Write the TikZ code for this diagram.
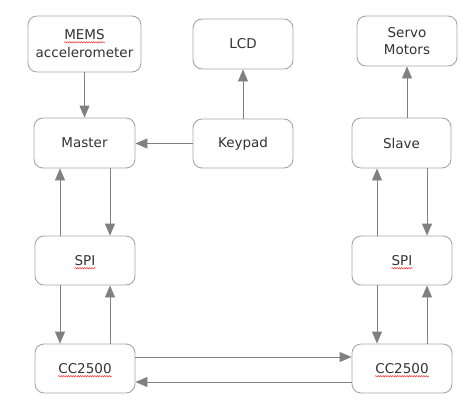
\documentclass[tikz,border=0pt]{standalone}
\usepackage{fontspec}
\setmainfont{DejaVu Sans}
\usetikzlibrary{arrows.meta,decorations.pathmorphing}
\definecolor{boxline}{HTML}{A6A6A6}
\definecolor{arrline}{HTML}{808080}
\definecolor{txtcol}{HTML}{333333}
\begin{document}
\begin{tikzpicture}[x=1pt,y=-1pt,
  box/.style={draw=boxline, line width=0.9pt, rounded corners=9pt, fill=white,
    minimum width=100pt, minimum height=50pt, inner sep=0pt, align=center,
    text=txtcol, font=\fontsize{13.5}{17.5}\selectfont},
  txt/.style={inner sep=0pt, text=txtcol, font=\fontsize{13.5}{17.5}\selectfont},
  arr/.style={draw=arrline, line width=0.9pt, -{Triangle[length=12pt,width=10pt]}},
  squig/.style={draw=red!85, line width=0.45pt, decorate,
    decoration={snake, amplitude=0.7pt, segment length=2.4pt}}]
\useasboundingbox (0,0) rectangle (473,412);
% boxes
\node[box, minimum width=113pt, minimum height=56pt] (mems) at (84.5,44) {};
\node[txt, anchor=base] (memsA) at ([yshift=4.5pt]mems.center) {MEMS};
\node[txt, anchor=base] (memsB) at ([yshift=-13pt]mems.center) {accelerometer};
\node[box] (lcd) at (243,44) {LCD};
\node[box] (servo) at (407,41) {Servo\\Motors};
\node[box, minimum width=101pt] (master) at (84.5,143) {Master};
\node[box, minimum height=49pt] (keypad) at (243,143.5) {Keypad};
\node[box, minimum width=99pt] (slave) at (401.5,143) {Slave};
\node[box, minimum height=49pt] (spiL) at (85,260.5) {};
\node[txt] (spiLt) at (spiL) {SPI};
\node[box, minimum height=49pt] (spiR) at (402,260.5) {};
\node[txt] (spiRt) at (spiR) {SPI};
\node[box, minimum height=49pt] (ccL) at (85,368.5) {};
\node[txt] (ccLt) at (ccL) {CC2500};
\node[box, minimum height=49pt] (ccR) at (402,368.5) {};
\node[txt] (ccRt) at (ccR) {CC2500};
% spell-check squiggles
\foreach \n in {memsA,spiLt,spiRt,ccLt,ccRt}
  \draw[squig] ([yshift=-2.8pt]\n.base west) -- ([yshift=-2.8pt]\n.base east);
% connectors
\draw[arr] (mems.south) -- (master.north);
\draw[arr] (keypad.north) -- (lcd.south);
\draw[arr] (slave.north -| servo.south) -- (servo.south);
\draw[arr] (keypad.west) -- (keypad.west -| master.east);
\draw[arr] ([xshift=-25pt]spiL.north) -- ([xshift=-24.5pt]master.south);
\draw[arr] ([xshift=25.5pt]master.south) -- ([xshift=25pt]spiL.north);
\draw[arr] ([xshift=-25pt]spiL.south) -- ([xshift=-25pt]ccL.north);
\draw[arr] ([xshift=25pt]ccL.north) -- ([xshift=25pt]spiL.south);
\draw[arr] ([xshift=-25pt]spiR.north) -- ([xshift=-24.5pt]slave.south);
\draw[arr] ([xshift=25.5pt]slave.south) -- ([xshift=25pt]spiR.north);
\draw[arr] ([xshift=-25pt]spiR.south) -- ([xshift=-25pt]ccR.north);
\draw[arr] ([xshift=25pt]ccR.north) -- ([xshift=25pt]spiR.south);
\draw[arr] ([yshift=11.5pt]ccL.east) -- ([yshift=11.5pt]ccR.west);
\draw[arr] ([yshift=-13.5pt]ccR.west) -- ([yshift=-13.5pt]ccL.east);
\end{tikzpicture}
\end{document}
